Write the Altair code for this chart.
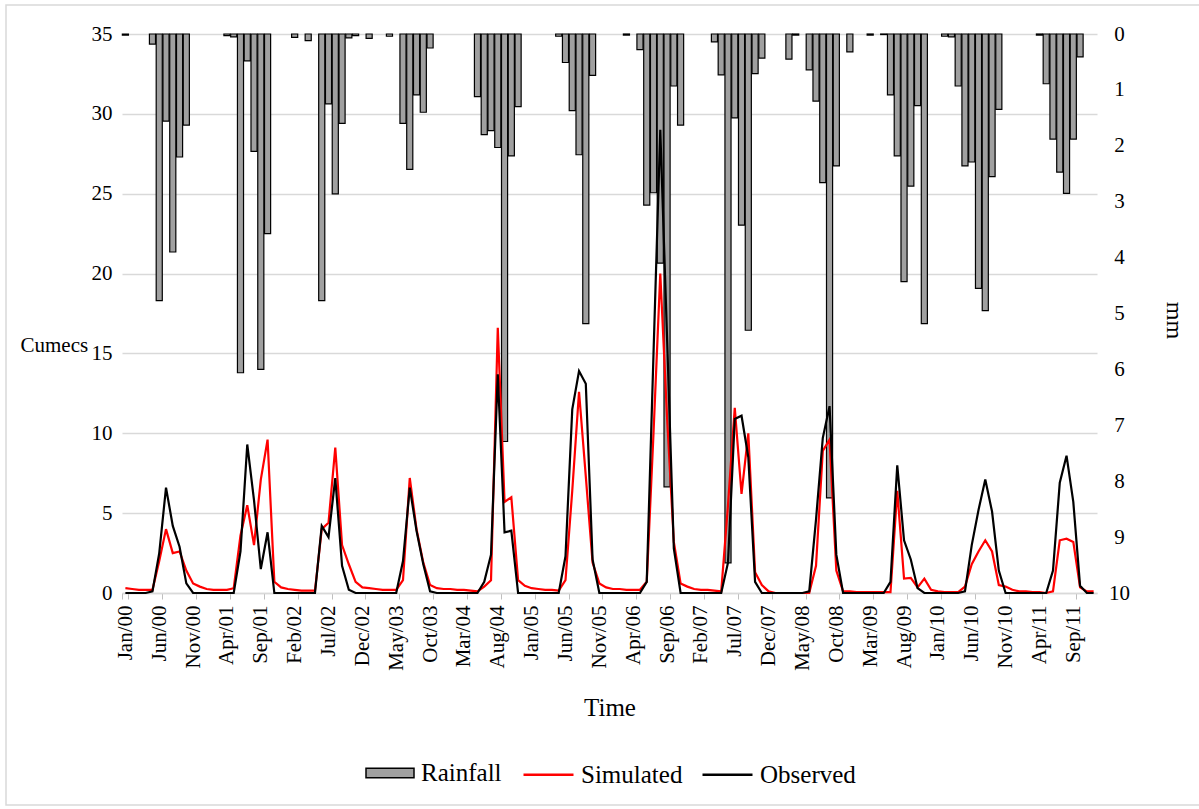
import altair as alt
import pandas as pd

month_names = ["Jan", "Feb", "Mar", "Apr", "May", "Jun", "Jul", "Aug", "Sep", "Oct", "Nov", "Dec"]
years = list(range(2000, 2012))
labels = [f"{m}/{y % 100:02d}" for y in years for m in month_names]

rain_mm = [
    0.02, 0, 0, 0, 0.18, 4.77, 1.56, 3.9, 2.2, 1.63, 0, 0,
    0, 0, 0, 0.03, 0.05, 6.06, 0.48, 2.1, 6.0, 3.57, 0, 0,
    0, 0.06, 0, 0.12, 0, 4.77, 1.25, 2.86, 1.6, 0.07, 0.03, 0,
    0.08, 0, 0, 0.04, 0, 1.6, 2.42, 1.09, 1.4, 0.25, 0, 0,
    0, 0, 0, 0, 1.12, 1.8, 1.73, 2.03, 7.29, 2.18, 1.3, 0,
    0, 0, 0, 0, 0.04, 0.51, 1.37, 2.16, 5.18, 0.74, 0, 0,
    0, 0, 0.02, 0, 0.28, 3.06, 2.84, 4.1, 8.1, 0.93, 1.63, 0,
    0, 0, 0, 0.14, 0.73, 9.46, 1.5, 3.42, 5.3, 0.71, 0.43, 0,
    0, 0, 0.45, 0.02, 0, 0.64, 1.2, 2.66, 8.3, 2.36, 0, 0.32,
    0, 0, 0.02, 0, 0.01, 1.09, 2.18, 4.43, 2.72, 1.28, 5.18, 0,
    0, 0.04, 0.05, 0.93, 2.36, 2.29, 4.55, 4.95, 2.55, 1.35, 0, 0,
    0, 0, 0, 0.02, 0.89, 1.88, 2.47, 2.85, 1.88, 0.41, 0, 0,
]

observed = [
    0, 0, 0, 0, 0.1, 2.5, 6.6, 4.2, 2.9, 0.6, 0, 0,
    0, 0, 0, 0, 0, 2.6, 9.3, 5.8, 1.5, 3.8, 0, 0,
    0, 0, 0, 0, 0, 4.2, 3.5, 7.2, 1.7, 0.2, 0, 0,
    0, 0, 0, 0, 0, 2.0, 6.6, 3.9, 1.8, 0.1, 0, 0,
    0, 0, 0, 0, 0, 0.7, 2.4, 13.7, 3.8, 3.9, 0, 0,
    0, 0, 0, 0, 0, 2.3, 11.5, 13.9, 13.1, 2.1, 0, 0,
    0, 0, 0, 0, 0, 0.7, 15, 29, 16, 2.8, 0, 0,
    0, 0, 0, 0, 0, 1.9, 10.9, 11.1, 8.5, 0.7, 0, 0,
    0, 0, 0, 0, 0, 0.1, 4.6, 9.7, 11.7, 2.4, 0, 0,
    0, 0, 0, 0, 0, 0.7, 8.0, 3.3, 2.1, 0.3, 0, 0,
    0, 0, 0, 0, 0.1, 3.0, 5.2, 7.1, 5.1, 1.4, 0, 0,
    0, 0, 0, 0, 0, 1.4, 6.9, 8.6, 5.7, 0.45, 0, 0,
]

simulated = [
    0.3, 0.25, 0.2, 0.2, 0.2, 2.0, 4.0, 2.5, 2.6, 1.4, 0.6, 0.4,
    0.25, 0.2, 0.2, 0.2, 0.3, 3.6, 5.5, 3.0, 7.1, 9.6, 0.7, 0.35,
    0.25, 0.2, 0.15, 0.15, 0.15, 4.0, 4.4, 9.1, 3.0, 1.8, 0.7, 0.35,
    0.3, 0.25, 0.2, 0.2, 0.2, 0.8, 7.2, 4.0, 1.9, 0.5, 0.3, 0.25,
    0.25, 0.2, 0.2, 0.15, 0.1, 0.4, 0.8, 16.6, 5.7, 6.0, 0.8, 0.45,
    0.3, 0.25, 0.2, 0.2, 0.15, 0.8, 6.4, 12.6, 7.3, 1.9, 0.6, 0.35,
    0.25, 0.25, 0.2, 0.2, 0.2, 0.7, 10, 20, 11, 3.2, 0.6, 0.4,
    0.25, 0.2, 0.2, 0.15, 0.1, 5.5, 11.6, 6.2, 10.0, 1.3, 0.5, 0.1,
    0, 0, 0, 0, 0, 0, 1.7, 8.9, 9.6, 1.4, 0.1, 0.1,
    0.05, 0.05, 0.05, 0.05, 0.05, 0.05, 6.4, 0.9, 0.95, 0.35, 0.9, 0.2,
    0.1, 0.05, 0.05, 0.05, 0.4, 1.8, 2.6, 3.3, 2.6, 0.5, 0.4, 0.2,
    0.1, 0.1, 0.05, 0.05, 0, 0.1, 3.3, 3.4, 3.2, 0.35, 0.1, 0.1,
]

tick_labels = labels[::5]

FONT = "Liberation Serif"
W, H = 975, 559

rain_df = pd.DataFrame({"month": labels, "rain": rain_mm, "series": "Rainfall"})
flow_df = pd.concat([
    pd.DataFrame({"month": labels, "value": simulated, "series": "Simulated"}),
    pd.DataFrame({"month": labels, "value": observed, "series": "Observed"}),
])

x_enc = alt.X(
    "month:O",
    sort=labels,
    scale=alt.Scale(paddingInner=0.1, paddingOuter=0.05),
    axis=alt.Axis(
        values=tick_labels,
        labelAngle=-90,
        labelAlign="right",
        labelBaseline="middle",
        labelPadding=6,
        labelFont=FONT,
        labelFontSize=21,
        labelColor="black",
        tickBand="extent",
        tickColor="#bfbfbf",
        tickSize=6,
        domainColor="#d9d9d9",
        domainWidth=1.5,
        grid=False,
        title="Time",
        titleFont=FONT,
        titleFontSize=25,
        titleFontWeight="normal",
        titleColor="black",
        titleY=114,
        titleBaseline="middle",
    ),
)

bars = alt.Chart(rain_df).transform_filter(alt.datum.rain > 0).mark_bar(
    stroke="black", strokeWidth=1.2
).encode(
    x=x_enc,
    y=alt.Y(
        "rain:Q",
        scale=alt.Scale(domain=[0, 10], reverse=True, nice=False),
        axis=alt.Axis(
            orient="right",
            values=list(range(0, 11)),
            grid=False,
            ticks=False,
            domain=False,
            labelFont=FONT,
            labelFontSize=21,
            labelColor="black",
            labelAlign="center",
            labelPadding=22,
            title="mm",
            titleFont=FONT,
            titleFontSize=24,
            titleFontWeight="normal",
            titleColor="black",
            titleAngle=90,
            titleBaseline="middle",
            titleX=76,
            titleY=286,
        ),
    ),
    y2=alt.datum(0),
    fill=alt.Fill(
        "series:N",
        scale=alt.Scale(domain=["Rainfall"], range=["#a0a0a0"]),
        legend=alt.Legend(
            orient="none",
            legendX=243,
            legendY=714,
            title=None,
            symbolType="M-1,-0.2H1V0.2H-1Z",
            symbolSize=2304,
            symbolStrokeColor="black",
            symbolStrokeWidth=1.5,
            labelFont=FONT,
            labelFontSize=25,
            labelColor="black",
            labelOffset=6,
        ),
    ),
)

lines = alt.Chart(flow_df).mark_line(strokeWidth=2.2).encode(
    x=x_enc,
    y=alt.Y(
        "value:Q",
        scale=alt.Scale(domain=[0, 35], nice=False),
        axis=alt.Axis(
            orient="left",
            values=[0, 5, 10, 15, 20, 25, 30, 35],
            grid=True,
            gridColor="#d9d9d9",
            gridWidth=1.5,
            ticks=False,
            domain=False,
            labelFont=FONT,
            labelFontSize=21,
            labelColor="black",
            labelPadding=10,
            title="Cumecs",
            titleFont=FONT,
            titleFontSize=21,
            titleFontWeight="normal",
            titleColor="black",
            titleAngle=0,
            titleAlign="left",
            titleBaseline="middle",
            titleX=-102,
            titleY=311,
        ),
    ),
    stroke=alt.Stroke(
        "series:N",
        scale=alt.Scale(domain=["Simulated", "Observed"], range=["#ff0000", "#000000"]),
        legend=alt.Legend(
            orient="none",
            legendX=400,
            legendY=714,
            direction="horizontal",
            title=None,
            symbolType="stroke",
            symbolSize=2500,
            symbolStrokeWidth=2.5,
            labelFont=FONT,
            labelFontSize=25,
            labelColor="black",
            labelOffset=6,
            columnPadding=14,
        ),
    ),
)

frame = alt.Chart(pd.DataFrame({"frame": [0]})).mark_rect(
    fillOpacity=0, stroke="#d9d9d9", strokeWidth=1.5
).encode(
    x=alt.value(-116), x2=alt.value(1110), y=alt.value(-29), y2=alt.value(771)
)

chart = (
    alt.layer(frame, bars, lines)
    .resolve_scale(y="independent", x="shared")
    .properties(
        width=W,
        height=H,
        padding={"left": 122, "top": 34, "right": 102, "bottom": 216},
        autosize=alt.AutoSizeParams(type="none"),
        background="white",
    )
    .configure_view(stroke=None)
)

chart.save("out.html", embed_options={"renderer": "svg", "actions": False})
